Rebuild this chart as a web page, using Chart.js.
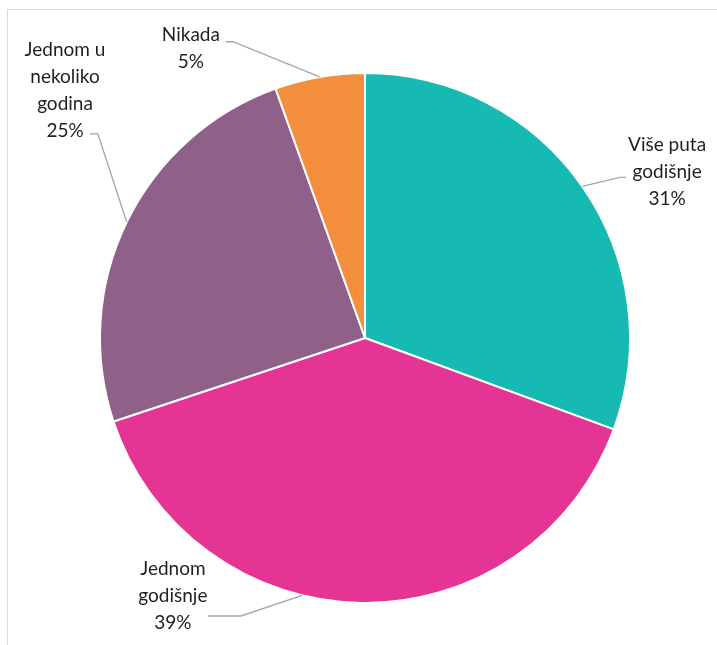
<!DOCTYPE html>
<html>
<head>
<meta charset="utf-8">
<script src="https://cdn.jsdelivr.net/npm/chart.js@4"></script>
<style>
    html, body { margin: 0; padding: 0; background: #fff; }
    .frame {
        position: absolute; left: 7px; top: 9px; width: 720px; height: 650px;
        border-top: 1px solid #d9d9d9; border-left: 1px solid #d9d9d9;
    }
    #wrap { position: absolute; left: 0; top: 0; width: 717px; height: 645px; }
</style>
</head>
<body>
<div class="frame"></div>
<div id="wrap"><canvas id="pieChart" width="717" height="645"></canvas></div>
<script>
// categories (wrapped as in the original) and shares in percent
const categories = [
    ['Više puta', 'godišnje'],
    ['Jednom', 'godišnje'],
    ['Jednom u', 'nekoliko', 'godina'],
    ['Nikada']
];
const shares = [30.6, 39.3, 24.62, 5.48];
const sliceColors = ['#17b9b3', '#e43595', '#8f6189', '#f38f3c'];

// label layout, in units of the pie radius from its centre
// text: centre of the text block, elbow/end: leader line bend and end, shift: degrees moved along the rim
const labelLayout = [
    { text: [1.140, -0.626], elbow: [0.962, -0.606], end: [0.985, -0.606], shift: 0 },
    { text: [-0.725, 0.974], elbow: [-0.468, 1.049], end: [-0.592, 1.049], shift: 12.8 },
    { text: [-1.132, -0.935], elbow: [-1.008, -0.770], end: [-1.038, -0.770], shift: 0 },
    { text: [-0.657, -1.092], elbow: [-0.498, -1.118], end: [-0.525, -1.118], shift: 0 }
];

const outsideLabels = {
    id: 'outsideLabels',
    afterDatasetsDraw(chart) {
        const ctx = chart.ctx;
        const arcs = chart.getDatasetMeta(0).data;
        const lineH = 27;
        ctx.save();
        arcs.forEach((arc, i) => {
            const { x, y, outerRadius, startAngle, endAngle } = arc.getProps(['x', 'y', 'outerRadius', 'startAngle', 'endAngle'], true);
            const r = outerRadius;
            const lay = labelLayout[i];
            const mid = (startAngle + endAngle) / 2 + lay.shift * Math.PI / 180;

            // leader line
            ctx.strokeStyle = '#a6a6a6';
            ctx.lineWidth = 1.3;
            ctx.beginPath();
            ctx.moveTo(x + r * Math.cos(mid), y + r * Math.sin(mid));
            ctx.lineTo(x + r * lay.elbow[0], y + r * lay.elbow[1]);
            ctx.lineTo(x + r * lay.end[0], y + r * lay.end[1]);
            ctx.stroke();

            // text
            const lines = categories[i].concat([Math.round(shares[i]) + '%']);
            ctx.fillStyle = '#1f1f1f';
            ctx.font = '19px Lato';
            ctx.textAlign = 'center';
            ctx.textBaseline = 'middle';
            const tx = x + r * lay.text[0];
            const ty = y + r * lay.text[1] - (lines.length - 1) * lineH / 2;
            lines.forEach((line, k) => ctx.fillText(line, tx, ty + k * lineH));
        });
        ctx.restore();
    }
};

new Chart(document.getElementById('pieChart').getContext('2d'), {
    type: 'pie',
    data: {
        labels: categories.map(c => c.join(' ')),
        datasets: [{
            data: shares,
            backgroundColor: sliceColors,
            borderColor: '#ffffff',
            borderWidth: 2,
            hoverOffset: 0
        }]
    },
    options: {
        responsive: false,
        animation: false,
        layout: { padding: { left: 99, right: 86, top: 72, bottom: 41 } },
        plugins: {
            legend: { display: false },
            tooltip: { enabled: false }
        }
    },
    plugins: [outsideLabels]
});
</script>
</body>
</html>
